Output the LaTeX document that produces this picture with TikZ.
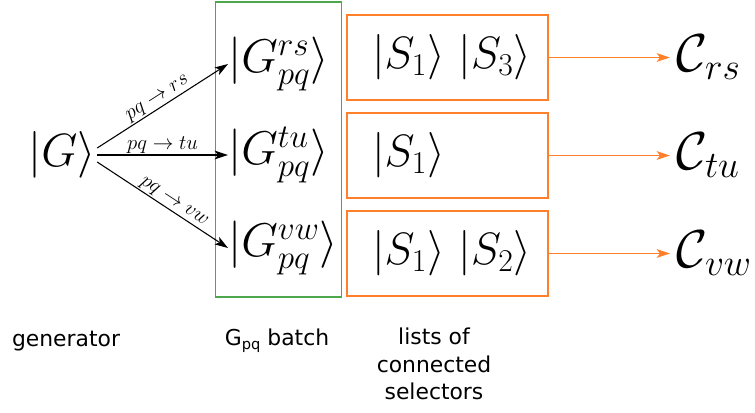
\RequirePackage{fix-cm}
\documentclass[tikz,border=0pt]{standalone}
\usepackage{fontspec}
\setsansfont{DejaVu Sans}
\usetikzlibrary{arrows.meta}
\definecolor{ogreen}{RGB}{77,168,77}
\definecolor{oorange}{RGB}{255,127,42}
\begin{document}
\begin{tikzpicture}[x=0.75pt,y=-0.75pt,
  genmath/.style={font=\fontsize{35}{40}\selectfont, inner sep=0pt},
  bigmath/.style={font=\fontsize{35.5}{42}\selectfont, inner sep=0pt},
  calmath/.style={font=\fontsize{40}{46}\selectfont, inner sep=5pt, anchor=west},
  lab/.style={font=\fontsize{15.5}{18}\selectfont, inner sep=1pt},
  arr/.style={-{Stealth[length=10pt,width=6.5pt,inset=2.5pt]}, line width=0.8pt, black},
  oarr/.style={-{Stealth[length=10pt,width=6.5pt,inset=2.5pt]}, line width=1.1pt, oorange},
  sbox/.style={draw=oorange, line width=1.1pt, minimum width=150.75pt, minimum height=63.75pt, inner xsep=18.75pt, inner ysep=0pt, font=\fontsize{34}{40}\selectfont},
  caption/.style={font=\sffamily\fontsize{16.4}{20.6}\selectfont, align=center, inner sep=0pt}
]
\useasboundingbox (0,0) rectangle (755,412);
% green batch box
\node[draw=ogreen, line width=0.9pt, minimum width=94.5pt, minimum height=221.25pt, inner sep=0pt] (batch) at (278.5,149.5) {};
% generator
\node[genmath, inner xsep=1pt] (G) at (62,155) {$|G\rangle$};
% batch members
\node[bigmath, anchor=west] (g1) at (228,64) {$|G^{rs}_{pq}\rangle$};
\node[bigmath, anchor=west] (g2) at (228,155) {$|G^{tu}_{pq}\rangle$};
\node[bigmath, anchor=west] (g3) at (228,248) {$|G^{vw}_{pq}\rangle$};
\draw[arr] ([yshift=5.25pt]G.east) -- node[lab, sloped, above] {$pq\rightarrow rs$} (g1.west);
\draw[arr] (G.east) -- node[lab, above] {$pq\rightarrow tu$} (g2.west);
\draw[arr] ([yshift=-5.25pt]G.east) -- node[lab, sloped, above, pos=0.55] {$pq\rightarrow vw$} (g3.west);
% selector lists
\node[sbox] (s1) at (447.5,57.5) {\makebox[113.25pt][l]{$|S_1\rangle\ |S_3\rangle$}};
\node[sbox] (s2) at (447.5,155.5) {\makebox[113.25pt][l]{$|S_1\rangle$}};
\node[sbox] (s3) at (447.5,253.5) {\makebox[113.25pt][l]{$|S_1\rangle\ |S_2\rangle$}};
% outputs
\node[calmath] (c1) at (670,57.5) {$\mathcal{C}_{rs}$};
\node[calmath] (c2) at (670,155.5) {$\mathcal{C}_{tu}$};
\node[calmath] (c3) at (670,253.5) {$\mathcal{C}_{vw}$};
\draw[oarr] (s1.east) -- (c1.west);
\draw[oarr] (s2.east) -- (c2.west);
\draw[oarr] (s3.east) -- (c3.west);
% captions
\node[caption] (cap1) at (66,341) {generator};
\node[caption] (cap2) at (277,341) {G{\raisebox{-0.35ex}{\fontsize{11}{11}\selectfont pq}} batch};
\node[caption, anchor=north] (cap3) at (434,328) {lists of\\connected\\selectors};
\end{tikzpicture}
\end{document}
